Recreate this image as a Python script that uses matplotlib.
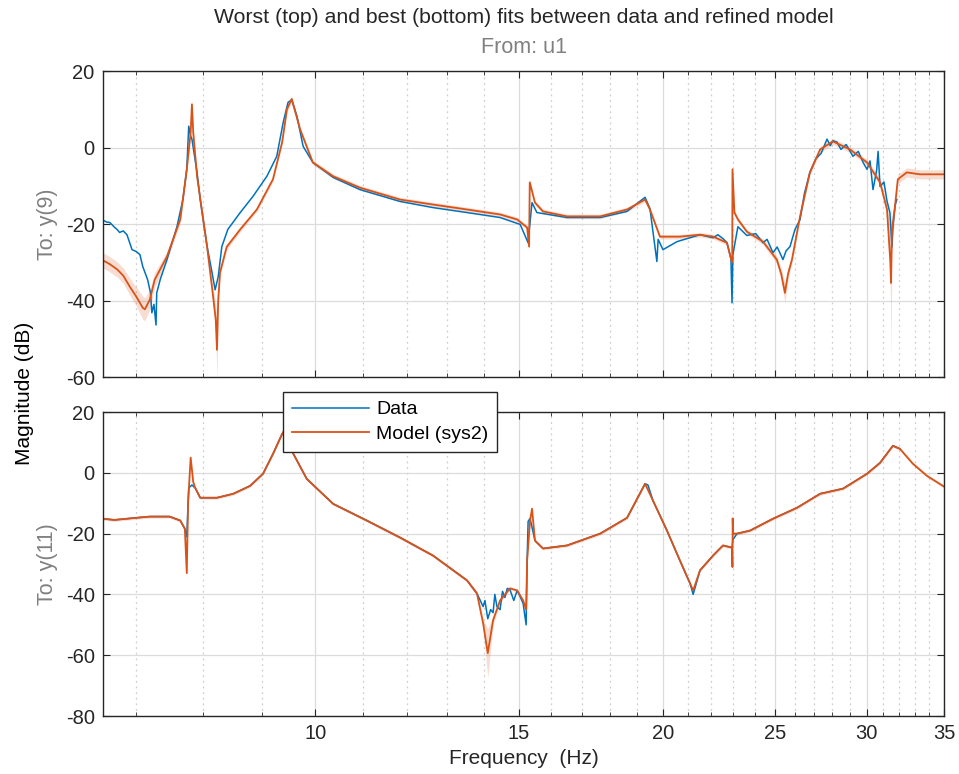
import matplotlib
matplotlib.use('Agg')
import matplotlib.pyplot as plt
from matplotlib.ticker import FixedLocator, NullFormatter
import numpy as np

plt.rcParams['font.family'] = ['Liberation Sans', 'DejaVu Sans']
plt.rcParams['axes.unicode_minus'] = False

BLUE = '#0072BD'
ORANGE = '#D95319'
DARK = '#262626'
GRAY = '#808080'

# ---- top panel: To y(9) (worst fit) ----
top_data_f = [6.55, 6.60, 6.64, 6.70, 6.74, 6.77, 6.82, 6.87, 6.91, 6.94, 7.00, 7.05,
              7.09, 7.16, 7.20, 7.22, 7.25, 7.28, 7.29, 7.34, 7.44, 7.59, 7.68, 7.74,
              7.77, 7.80, 7.82, 7.90, 7.95, 8.06, 8.14, 8.19, 8.24, 8.30, 8.40, 8.61,
              8.83, 9.08, 9.26, 9.38, 9.47, 9.54, 9.64, 9.76, 9.95, 10.36, 10.93, 11.84,
              12.64, 13.53, 14.45, 15.04, 15.28, 15.31, 15.40, 15.55, 16.51, 17.64,
              18.61, 19.29, 19.48, 19.60, 19.75, 19.80, 19.99, 20.56, 21.52, 22.09,
              22.30, 22.53, 22.71, 22.89, 22.94, 22.98, 23.21, 23.63, 24.05, 24.40,
              24.60, 24.89, 25.10, 25.39, 25.55, 25.75, 26.00, 26.27, 26.50, 26.79,
              27.10, 27.40, 27.72, 27.90, 28.05, 28.28, 28.50, 28.80, 29.19, 29.50,
              29.80, 30.02, 30.20, 30.38, 30.60, 30.69, 30.81, 31.05, 31.24, 31.42,
              31.55, 31.61, 31.75, 31.86]
top_data_db = [-19.0, -19.5, -19.6, -20.8, -21.5, -22.2, -21.8, -22.8, -25.0, -26.7, -27.2, -28.0,
               -31.1, -34.6, -38.0, -43.2, -41.0, -46.4, -38.0, -34.6, -29.3, -20.7, -13.6, -5.7,
               5.6, 3.0, 2.2, -6.5, -13.6, -25.9, -32.7, -37.2, -33.8, -25.9, -21.4, -17.0,
               -12.8, -7.5, -2.3, 6.6, 11.8, 12.5, 8.2, 0.3, -3.9, -7.8, -11.0, -14.1,
               -15.7, -17.0, -18.3, -20.1, -24.9, -22.0, -14.4, -17.0, -18.3, -18.3,
               -16.7, -13.0, -16.0, -22.2, -29.8, -24.0, -26.7, -24.6, -22.8, -23.6,
               -22.8, -23.8, -24.9, -29.0, -40.6, -28.0, -20.7, -23.0, -22.5, -24.9,
               -24.0, -27.5, -26.0, -29.3, -27.0, -25.9, -21.5, -18.8, -12.0, -6.5,
               -3.0, -1.5, 2.2, 0.5, 1.8, 1.4, -0.5, 0.8, -2.3, -1.0,
               -4.0, -5.7, -3.5, -11.0, -6.0, -1.0, -10.2, -9.0, -14.0, -17.0,
               -26.0, -20.7, -15.0, -13.6]

top_model_f = [6.55, 6.64, 6.74, 6.82, 6.91, 7.00, 7.09, 7.12, 7.19, 7.26, 7.44, 7.64,
               7.74, 7.80, 7.82, 7.84, 7.90, 8.06, 8.15, 8.20, 8.22, 8.24, 8.27, 8.38,
               8.61, 8.90, 9.19, 9.36, 9.45, 9.54, 9.70, 9.95, 10.36, 10.93, 11.84, 12.64,
               13.53, 14.45, 14.95, 15.25, 15.31, 15.33, 15.49, 15.74, 16.51, 17.64, 18.61,
               19.29, 19.48, 19.87, 20.68, 21.52, 22.09, 22.71, 22.90, 22.95, 22.96, 23.05,
               23.21, 23.63, 24.40, 25.08, 25.30, 25.49, 25.65, 25.85, 26.27, 26.79, 27.34,
               28.05, 29.02, 30.02, 30.81, 31.24, 31.45, 31.49, 31.55, 31.74, 31.92, 32.50,
               33.36, 35.0]
top_model_db = [-29.5, -30.5, -31.9, -33.5, -36.4, -39.0, -41.9, -42.3, -39.8, -34.6, -28.5, -18.8,
                -5.7, 4.0, 11.3, 4.0, -7.5, -26.0, -38.0, -45.0, -52.9, -40.0, -32.7, -26.0,
                -21.4, -16.2, -8.3, 1.4, 10.0, 12.7, 4.8, -3.9, -7.5, -10.5, -13.6, -14.9,
                -16.2, -17.5, -18.8, -20.9, -25.9, -9.1, -14.4, -16.7, -18.0, -18.0, -16.2,
                -13.6, -16.2, -23.3, -23.3, -22.8, -23.3, -24.9, -29.3, -30.0, -5.7, -17.0,
                -18.8, -22.0, -24.6, -29.3, -33.0, -38.0, -33.0, -29.3, -18.0, -6.5, -0.5,
                1.6, -0.5, -3.9, -9.1, -16.2, -30.0, -35.4, -22.0, -15.4, -8.3, -6.5,
                -7.0, -7.0]
top_model_band = [2.0, 2.0, 2.0, 2.0, 2.2, 2.5, 3.0, 3.0, 2.5, 2.0, 1.2, 1.0,
                  1.0, 1.0, 1.5, 1.0, 1.0, 1.0, 2.0, 4.0, 8.0, 3.0, 1.0, 0.8,
                  0.6, 0.6, 0.6, 0.6, 0.8, 0.8, 0.6, 0.6, 0.6, 0.6, 0.6, 0.6,
                  0.6, 0.6, 0.6, 0.6, 1.0, 0.8, 0.6, 0.6, 0.6, 0.6, 0.6,
                  0.6, 0.6, 0.6, 0.6, 0.6, 0.6, 0.6, 0.8, 0.8, 0.8, 0.6,
                  0.6, 0.6, 0.8, 1.0, 1.5, 2.5, 1.5, 1.0, 0.8, 0.8, 0.8,
                  0.8, 0.8, 0.8, 1.0, 1.5, 8.0, 20.0, 4.0, 1.5, 1.2, 1.2,
                  1.2, 1.2]

# ---- bottom panel: To y(11) (best fit) ----
bot_data_f = [6.55, 6.70, 6.87, 7.00, 7.19, 7.48, 7.64, 7.71, 7.74, 7.77, 7.82, 7.87,
              7.95, 8.22, 8.49, 8.78, 9.01, 9.19, 9.36, 9.50, 9.56, 9.83, 10.36, 11.08,
              11.84, 12.32, 12.64, 13.53, 13.80, 13.97, 14.02, 14.10, 14.18, 14.25, 14.30,
              14.36, 14.45, 14.52, 14.59, 14.66, 14.74, 14.85, 14.95, 15.05, 15.13, 15.22,
              15.25, 15.28, 15.34, 15.49, 15.74, 16.51, 17.64, 18.61, 19.29, 19.40, 19.60,
              20.15, 20.68, 21.10, 21.23, 21.52, 22.09, 22.53, 22.94, 22.98, 23.17, 23.78,
              24.89, 26.11, 27.34, 28.62, 30.02, 30.81, 31.61, 32.05]
bot_data_db = [-15.1, -15.5, -15.1, -14.8, -14.4, -14.4, -15.7, -18.4, -21.0, -5.0, -4.0, -5.0,
               -8.2, -8.2, -6.9, -4.3, -0.3, 6.2, 12.8, 16.0, 6.6, -2.0, -10.2, -15.7,
               -21.3, -24.9, -27.2, -35.4, -39.7, -44.0, -42.0, -48.0, -45.0, -46.0, -40.0,
               -44.0, -45.0, -39.0, -41.0, -38.0, -38.5, -42.0, -38.7, -41.0, -43.0, -50.0,
               -29.0, -16.0, -15.0, -22.3, -24.9, -23.9, -20.0, -14.8, -3.6, -4.0, -9.2,
               -19.0, -28.9, -36.4, -40.0, -32.1, -27.2, -23.9, -24.6, -22.0, -20.0, -19.0,
               -15.1, -11.5, -6.9, -5.2, -0.3, 3.3, 8.9, 7.9]

bot_model_f = [6.55, 6.70, 6.87, 7.00, 7.19, 7.48, 7.64, 7.71, 7.74, 7.76, 7.80, 7.84,
               7.87, 7.95, 8.22, 8.49, 8.78, 9.01, 9.19, 9.36, 9.50, 9.56, 9.83, 10.36,
               11.08, 11.84, 12.32, 12.64, 13.53, 13.80, 13.97, 14.10, 14.25, 14.45, 14.74,
               14.95, 15.13, 15.22, 15.25, 15.34, 15.40, 15.49, 15.74, 16.51, 17.64, 18.61,
               19.29, 19.60, 20.15, 20.68, 21.10, 21.23, 21.52, 22.09, 22.53, 22.94, 22.96,
               22.97, 22.99, 23.17, 23.78, 24.89, 26.11, 27.34, 28.62, 30.02, 30.81, 31.61,
               32.05, 32.89, 33.83, 34.92, 35.0]
bot_model_db = [-15.1, -15.5, -15.1, -14.8, -14.4, -14.4, -15.7, -18.4, -33.0, -10.0, 5.0, -3.0,
                -4.9, -8.2, -8.2, -6.9, -4.3, -0.3, 6.2, 12.8, 17.0, 6.6, -2.0, -10.2,
                -15.7, -21.3, -24.9, -27.2, -35.4, -39.7, -49.5, -59.3, -48.5, -42.0, -38.0,
                -38.7, -42.0, -45.0, -28.9, -15.7, -11.8, -22.3, -24.9, -23.9, -20.0, -14.8,
                -3.6, -9.2, -19.0, -28.9, -36.4, -38.7, -32.1, -27.2, -23.9, -24.6, -31.0,
                -15.0, -20.0, -20.0, -19.0, -15.1, -11.5, -6.9, -5.2, -0.3, 3.3, 8.9,
                7.9, 3.0, -1.0, -4.3, -4.5]
bot_model_band = [0.5, 0.5, 0.5, 0.5, 0.5, 0.5, 0.5, 0.8, 2.0, 1.0, 0.8, 0.5,
                  0.5, 0.5, 0.5, 0.5, 0.5, 0.5, 0.5, 0.5, 0.5, 0.5, 0.5, 0.5,
                  0.5, 0.5, 0.5, 0.5, 0.5, 0.8, 1.5, 8.0, 1.5, 0.8, 0.5,
                  0.5, 0.5, 0.8, 0.5, 0.5, 0.5, 0.5, 0.5, 0.5, 0.5, 0.5,
                  0.5, 0.5, 0.5, 0.5, 0.5, 0.5, 0.5, 0.5, 0.5, 0.5, 0.5,
                  0.5, 0.5, 0.5, 0.5, 0.5, 0.5, 0.5, 0.5, 0.5, 0.5, 0.5,
                  0.5, 0.5, 0.5, 0.5, 0.5]

major_ticks = [10, 15, 20, 25, 30, 35]
minor_ticks = [7, 8, 9, 11, 12, 13, 14, 16, 17, 18, 19, 21, 22, 23, 24,
               26, 27, 28, 29, 31, 32, 33, 34]

FS = 14.5  # base text size


def style_axes(ax, ylim, yticks, show_xlabels):
    ax.set_xscale('log')
    ax.set_xlim(6.55, 35)
    ax.set_ylim(*ylim)
    ax.set_yticks(yticks)
    ax.set_yticklabels([str(v) for v in yticks])
    ax.xaxis.set_major_locator(FixedLocator(major_ticks))
    ax.xaxis.set_minor_locator(FixedLocator(minor_ticks))
    ax.xaxis.set_minor_formatter(NullFormatter())
    if show_xlabels:
        ax.set_xticklabels([str(v) for v in major_ticks])
    else:
        ax.set_xticklabels([])
    ax.grid(True, which='major', color='#dcdcdc', lw=0.9, ls='-')
    ax.grid(True, which='minor', axis='x', color='#cfcfcf', lw=0.9, ls=(0, (1.5, 3)))
    ax.set_axisbelow(True)
    ax.tick_params(which='both', direction='in', top=True, right=True,
                   colors=DARK, labelsize=FS, labelcolor=DARK)
    ax.tick_params(which='major', length=5, pad=6)
    ax.tick_params(which='minor', length=3)
    for s in ax.spines.values():
        s.set_color(DARK)
        s.set_linewidth(1.0)


fig = plt.figure(figsize=(9.59, 7.74), dpi=100)
fig.patch.set_facecolor('white')

ax1 = fig.add_axes([0.1074, 0.5129, 0.877, 0.3953])
ax2 = fig.add_axes([0.1074, 0.0749, 0.877, 0.3928])

for ax, df, dd, mf, md, mb in [
        (ax1, top_data_f, top_data_db, top_model_f, top_model_db, top_model_band),
        (ax2, bot_data_f, bot_data_db, bot_model_f, bot_model_db, bot_model_band)]:
    mdb = np.array(md)
    band = np.array(mb)
    ax.fill_between(mf, mdb - band, mdb + band, color=ORANGE, alpha=0.2, lw=0)
    ax.plot(df, dd, color=BLUE, lw=1.1, label='Data')
    ax.plot(mf, md, color=ORANGE, lw=1.3, label='Model (sys2)')

style_axes(ax1, (-60, 20), [-60, -40, -20, 0, 20], False)
style_axes(ax2, (-80, 20), [-80, -60, -40, -20, 0, 20], True)

fig.text(0.5459, 0.978, 'Worst (top) and best (bottom) fits between data and refined model',
         ha='center', va='center', fontsize=15.3, color=DARK)
fig.text(0.5459, 0.939, 'From: u1', ha='center', va='center', fontsize=15.5, color=GRAY)
fig.text(0.5459, 0.020, 'Frequency  (Hz)', ha='center', va='center', fontsize=15, color=DARK)
fig.text(0.026, 0.4916, 'Magnitude (dB)', ha='center', va='center', rotation=90,
         fontsize=15, color='black')
fig.text(0.050, 0.7106, 'To: y(9)', ha='center', va='center', rotation=90,
         fontsize=15.5, color=GRAY)
fig.text(0.050, 0.2713, 'To: y(11)', ha='center', va='center', rotation=90,
         fontsize=15.5, color=GRAY)

handles, labels = ax2.get_legend_handles_labels()
leg = fig.legend(handles, labels, loc='upper left', bbox_to_anchor=(0.295, 0.4935),
                 borderaxespad=0, fancybox=False, framealpha=1, edgecolor=DARK,
                 fontsize=14, handlelength=4.0, handletextpad=0.36, borderpad=0.45,
                 labelspacing=0.35)
leg.get_frame().set_linewidth(1.0)

fig.savefig('out.png', dpi=100, facecolor='white')
